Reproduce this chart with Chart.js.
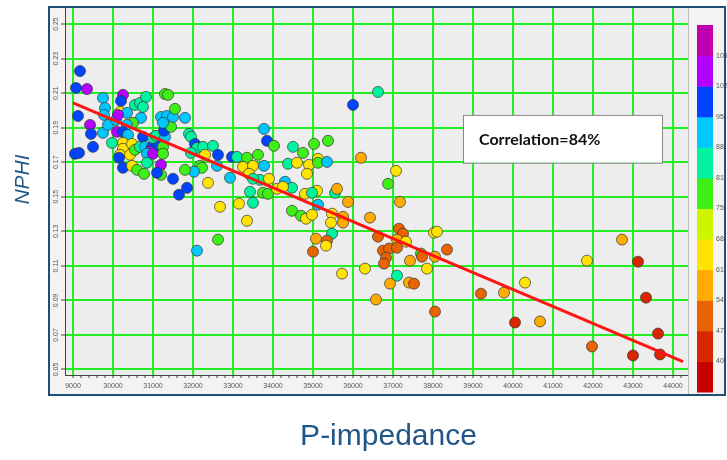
<!DOCTYPE html>
<html>
<head>
<meta charset="utf-8">
<script src="https://cdn.jsdelivr.net/npm/chart.js@4.4.1/dist/chart.umd.min.js"></script>
<style>
  html, body { margin: 0; padding: 0; background: #fff; }
</style>
</head>
<body>
<canvas id="chart" width="727" height="460"></canvas>
<script>
// P-impedance vs NPHI crossplot, points coloured by a third log (colour bar on the right)
const impedance = [
  29175, 29075, 29350, 29125, 29425, 29450, 29500, 29050, 29150, 29750,
  29800, 29775, 29750, 30250, 30200, 30175, 30350, 30550, 30675, 30825,
  30750, 30700, 30500, 30350, 29875, 30075, 30125, 30100, 30250, 30375,
  29975, 30250, 30250, 30175, 30150, 30250, 30475, 30425, 30475, 30550,
  30675, 30750, 30800, 30975, 30925, 30850, 30850, 31000, 31100, 31150,
  31200, 30600, 30775, 31200, 31100, 31000, 31075, 31250, 31250, 31300,
  31275, 31450, 31200, 31350, 31500, 31250, 31300, 31375, 31550, 31800,
  31900, 31950, 32050, 32100, 32250, 32500, 31950, 32300, 32625, 32600,
  32175, 32225, 32025, 31800, 31500, 32375, 31850, 31650, 32975, 33100,
  32925, 33350, 33250, 33500, 33400, 33625, 33775, 33775, 33850, 34025,
  33675, 33900, 33500, 33425, 33750, 33875, 34100, 34300, 32675, 33150,
  33500, 33350, 32625, 32100, 36625, 36000, 34500, 35025, 35375, 34750,
  34375, 34600, 34900, 35125, 35125, 35350, 36200, 34850, 37075, 36875,
  34475, 34250, 34800, 35100, 34975, 35550, 35600, 35875, 37175, 34475,
  34700, 34825, 34975, 35125, 35475, 35450, 35750, 35750, 36425, 35475,
  35075, 35350, 35325, 35000, 36625, 37150, 37250, 37100, 37325, 36750,
  36900, 37100, 36825, 36775, 35725, 36300, 37100, 36925, 37425, 37400,
  37525, 37700, 37725, 38050, 37850, 38025, 38100, 38350, 36575, 38050,
  39200, 39775, 40300, 40050, 40675, 41850, 42725, 43125, 41975, 43325,
  43625, 43000, 43675
];
const nphi = [
  0.2228, 0.2130, 0.2124, 0.1968, 0.1916, 0.1864, 0.1789, 0.1749, 0.1754, 0.2072,
  0.2014, 0.1974, 0.1870, 0.2090, 0.2055, 0.1991, 0.1986, 0.2032, 0.2043, 0.2078,
  0.2020, 0.1957, 0.1928, 0.1916, 0.1916, 0.1945, 0.1974, 0.1876, 0.1876, 0.1858,
  0.1812, 0.1812, 0.1778, 0.1743, 0.1726, 0.1668, 0.1806, 0.1743, 0.1679, 0.1772,
  0.1789, 0.1847, 0.1789, 0.1789, 0.1760, 0.1749, 0.1697, 0.1749, 0.1812, 0.1795,
  0.1685, 0.1656, 0.1633, 0.1627, 0.1639, 0.1841, 0.1853, 0.1789, 0.1749, 0.1847,
  0.1882, 0.1905, 0.1962, 0.1968, 0.1962, 0.1928, 0.2095, 0.2090, 0.2009, 0.1957,
  0.1864, 0.1847, 0.1806, 0.1783, 0.1789, 0.1795, 0.1754, 0.1743, 0.1743, 0.1679,
  0.1679, 0.1668, 0.1645, 0.1656, 0.1604, 0.1581, 0.1552, 0.1512, 0.1731, 0.1731,
  0.1610, 0.1726, 0.1673, 0.1679, 0.1633, 0.1743, 0.1679, 0.1893, 0.1824, 0.1795,
  0.1598, 0.1604, 0.1604, 0.1529, 0.1523, 0.1517, 0.1546, 0.1587, 0.1442, 0.1460,
  0.1465, 0.1361, 0.1252, 0.1188, 0.2107, 0.2032, 0.1789, 0.1806, 0.1824, 0.1754,
  0.1691, 0.1697, 0.1685, 0.1720, 0.1697, 0.1702, 0.1726, 0.1633, 0.1650, 0.1575,
  0.1552, 0.1558, 0.1517, 0.1535, 0.1523, 0.1523, 0.1546, 0.1470, 0.1470, 0.1419,
  0.1390, 0.1373, 0.1396, 0.1454, 0.1402, 0.1350, 0.1384, 0.1350, 0.1379, 0.1286,
  0.1257, 0.1246, 0.1217, 0.1182, 0.1269, 0.1315, 0.1286, 0.1252, 0.1240, 0.1188,
  0.1200, 0.1205, 0.1147, 0.1113, 0.1055, 0.1084, 0.1043, 0.0997, 0.1130, 0.1003,
  0.0997, 0.1171, 0.1153, 0.1153, 0.1084, 0.1292, 0.1298, 0.1194, 0.0905, 0.0835,
  0.0939, 0.0945, 0.1003, 0.0772, 0.0778, 0.1130, 0.1252, 0.1124, 0.0633, 0.0916,
  0.0708, 0.0581, 0.0587
];
const colourValue = [
  98, 98, 105, 98, 105, 98, 98, 98, 98, 91,
  91, 91, 91, 105, 98, 64, 91, 84, 84, 84,
  84, 91, 78, 91, 91, 91, 105, 105, 98, 91,
  84, 64, 64, 64, 98, 98, 64, 64, 64, 78,
  84, 98, 91, 98, 105, 91, 84, 105, 98, 98,
  105, 78, 78, 78, 98, 84, 84, 78, 78, 91,
  98, 78, 91, 91, 91, 91, 78, 78, 78, 91,
  84, 84, 98, 84, 84, 84, 84, 64, 98, 91,
  78, 78, 91, 78, 98, 64, 98, 98, 98, 84,
  91, 78, 64, 64, 64, 78, 91, 91, 98, 78,
  84, 64, 84, 84, 78, 78, 64, 91, 64, 62,
  84, 64, 78, 91, 84, 98, 84, 78, 78, 78,
  84, 64, 64, 64, 78, 91, 57, 64, 64, 78,
  84, 64, 64, 64, 84, 84, 57, 57, 57, 78,
  78, 64, 64, 91, 64, 64, 57, 57, 57, 84,
  57, 50, 64, 50, 50, 50, 50, 57, 64, 50,
  50, 50, 50, 50, 64, 64, 84, 57, 57, 57,
  50, 78, 50, 57, 64, 64, 64, 50, 57, 50,
  50, 57, 64, 43, 57, 64, 57, 43, 50, 43,
  43, 43, 43
];

// least-squares trend line end points
const trendX = [29000, 44250];
const trendY = [0.2043, 0.0546];
const correlationText = 'Correlation=84%';

const xTicks = [29000, 30000, 31000, 32000, 33000, 34000, 35000, 36000,
  37000, 38000, 39000, 40000, 41000, 42000, 43000, 44000];
const xTickLabels = ['9000', '30000', '31000', '32000', '33000', '34000', '35000', '36000',
  '37000', '38000', '39000', '40000', '41000', '42000', '43000', '44000'];
const yTicks = [0.05, 0.07, 0.09, 0.11, 0.13, 0.15, 0.17, 0.19, 0.21, 0.23, 0.25];
const yTickLabels = ['0.05', '0.07', '0.09', '0.11', '0.13', '0.15', '0.17', '0.19', '0.21', '0.23', '0.25'];

// colour bar, bottom to top
const barBreaks = [40, 47, 54, 61, 68, 75, 81, 88, 95, 102, 109];
const barLabels = ['40', '47', '54', '61', '68', '75', '81', '88', '95', '102', '109'];
const barColours = ['#c80000', '#da2600', '#e86400', '#ffab00', '#ffe400', '#cdf500',
  '#3ff018', '#00f4a0', '#00c8ff', '#0044ff', '#b400ff', '#c000b0'];

const GRID = '#22ee22';
const TITLE_BLUE = '#1f5687';

function colourFor(v) {
  let i = 0;
  while (i < barBreaks.length && v >= barBreaks[i]) i++;
  return barColours[i];
}

const points = impedance.map((x, i) => ({ x, y: nphi[i] }));
const trend = trendX.map((x, i) => ({ x, y: trendY[i] }));

const decorations = {
  id: 'decorations',
  beforeDraw(chart) {
    const { ctx, chartArea: a } = chart;
    ctx.save();
    ctx.fillStyle = '#fff';
    ctx.fillRect(0, 0, chart.width, chart.height);
    ctx.fillStyle = '#f3f3f3';
    ctx.fillRect(a.left - 16, a.top - 1, a.right - a.left + 53, a.bottom - a.top + 21);
    ctx.fillStyle = '#ededed';
    ctx.fillRect(a.left, a.top, a.right - a.left, a.bottom - a.top);
    ctx.restore();
  },
  afterDraw(chart) {
    const { ctx, chartArea: a, scales: { x, y } } = chart;
    ctx.save();

    // y tick labels, rotated
    ctx.fillStyle = '#555';
    ctx.font = '7px "Liberation Sans"';
    ctx.textAlign = 'center';
    ctx.textBaseline = 'middle';
    yTicks.forEach((v, i) => {
      ctx.save();
      ctx.translate(a.left - 9, y.getPixelForValue(v));
      ctx.rotate(-Math.PI / 2);
      ctx.fillText(yTickLabels[i], 0, 0);
      ctx.restore();
    });

    // separator between plot and colour bar
    ctx.strokeStyle = '#bbb';
    ctx.lineWidth = 1;
    ctx.beginPath();
    ctx.moveTo(a.right + 0.5, a.top);
    ctx.lineTo(a.right + 0.5, a.bottom + 20);
    ctx.stroke();

    // colour bar
    const bx = a.right + 9, bw = 16, top = a.top + 17, bottom = a.bottom + 17;
    const segH = (bottom - top) / barColours.length;
    barColours.forEach((c, i) => {
      ctx.fillStyle = c;
      ctx.fillRect(bx, bottom - (i + 1) * segH, bw, segH + 0.5);
    });
    ctx.fillStyle = '#555';
    ctx.textAlign = 'left';
    barLabels.forEach((t, i) => {
      ctx.fillText(t, bx + bw + 3, bottom - (i + 1) * segH);
    });

    // frame
    ctx.strokeStyle = '#1f4e79';
    ctx.lineWidth = 2;
    ctx.strokeRect(a.left - 16, a.top - 1, a.right - a.left + 53, a.bottom - a.top + 21);

    // correlation box
    const l = x.getPixelForValue(38750), r = x.getPixelForValue(43725);
    const t = y.getPixelForValue(0.1974), b = y.getPixelForValue(0.1697);
    ctx.fillStyle = '#fff';
    ctx.fillRect(l, t, r - l, b - t);
    ctx.strokeStyle = '#888';
    ctx.lineWidth = 1;
    ctx.strokeRect(l + 0.5, t + 0.5, r - l, b - t);
    ctx.fillStyle = '#111';
    ctx.font = 'bold 16px Lato';
    ctx.textBaseline = 'middle';
    ctx.fillText(correlationText, l + 16, (t + b) / 2 + 1);

    // axis titles
    ctx.fillStyle = TITLE_BLUE;
    ctx.textAlign = 'center';
    ctx.font = 'italic 21px "Liberation Sans"';
    ctx.save();
    ctx.translate(23, (a.top + a.bottom) / 2 - 12);
    ctx.rotate(-Math.PI / 2);
    ctx.fillText('NPHI', 0, 0);
    ctx.restore();
    ctx.font = '30px "Liberation Sans"';
    ctx.fillText('P-impedance', (a.left + a.right) / 2 + 12, 437);

    ctx.restore();
  }
};

const xMinor = [];
for (let v = 29000; v <= 44200; v += 200) xMinor.push(v);

new Chart(document.getElementById('chart'), {
  type: 'scatter',
  data: {
    datasets: [{
      type: 'line',
      data: trend,
      showLine: true,
      borderColor: '#ff1414',
      borderWidth: 3,
      pointRadius: 0,
      order: 0
    }, {
      data: points,
      backgroundColor: colourValue.map(colourFor),
      borderColor: 'rgba(55,55,55,0.9)',
      borderWidth: 0.8,
      pointRadius: 5.5,
      order: 1
    }]
  },
  options: {
    responsive: false,
    animation: false,
    devicePixelRatio: 1,
    layout: { padding: { top: 8, right: 39, left: 0, bottom: 0 } },
    plugins: { legend: { display: false }, tooltip: { enabled: false } },
    scales: {
      x: {
        type: 'linear',
        min: 28800,
        max: 44375,
        afterBuildTicks: (scale) => { scale.ticks = xMinor.map(v => ({ value: v })); },
        afterFit: (scale) => { scale.height = 85; },
        grid: {
          color: (c) => (c.tick && c.tick.value % 1000 === 0 ? GRID : 'rgba(0,0,0,0)'),
          lineWidth: 2,
          tickColor: '#444',
          tickWidth: 1,
          tickLength: 3
        },
        border: { color: '#444', width: 1 },
        ticks: {
          autoSkip: false,
          maxRotation: 0,
          padding: 4,
          color: '#555',
          font: { family: 'Liberation Sans', size: 7 },
          callback: (v) => {
            const i = xTicks.indexOf(v);
            return i >= 0 ? xTickLabels[i] : '';
          }
        }
      },
      y: {
        type: 'linear',
        min: 0.0468,
        max: 0.2593,
        afterBuildTicks: (scale) => { scale.ticks = yTicks.map(v => ({ value: v })); },
        afterFit: (scale) => { scale.width = 65; },
        grid: { color: GRID, lineWidth: 2, tickColor: '#444', tickWidth: 1, tickLength: 4 },
        border: { color: '#444', width: 1 },
        ticks: { display: false }
      }
    }
  },
  plugins: [decorations]
});
</script>
</body>
</html>
